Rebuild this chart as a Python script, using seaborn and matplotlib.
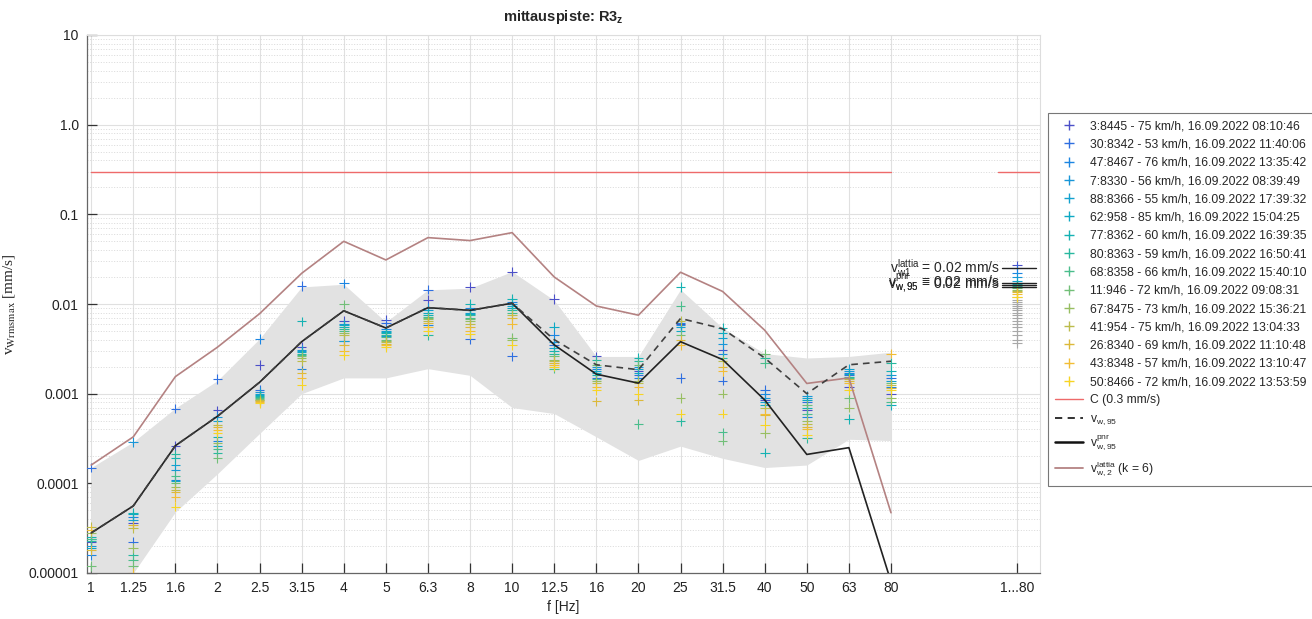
import numpy as np
import pandas as pd
import matplotlib
matplotlib.use("Agg")
import matplotlib.pyplot as plt
import seaborn as sns
from matplotlib.lines import Line2D

# ---------------- data ----------------
freq_labels = ["1", "1.25", "1.6", "2", "2.5", "3.15", "4", "5", "6.3", "8", "10",
               "12.5", "16", "20", "25", "31.5", "40", "50", "63", "80"]
total_label = "1...80"

pass_labels = [
    "3:8445 - 75 km/h, 16.09.2022 08:10:46",
    "30:8342 - 53 km/h, 16.09.2022 11:40:06",
    "47:8467 - 76 km/h, 16.09.2022 13:35:42",
    "7:8330 - 56 km/h, 16.09.2022 08:39:49",
    "88:8366 - 55 km/h, 16.09.2022 17:39:32",
    "62:958 - 85 km/h, 16.09.2022 15:04:25",
    "77:8362 - 60 km/h, 16.09.2022 16:39:35",
    "80:8363 - 59 km/h, 16.09.2022 16:50:41",
    "68:8358 - 66 km/h, 16.09.2022 15:40:10",
    "11:946 - 72 km/h, 16.09.2022 09:08:31",
    "67:8475 - 73 km/h, 16.09.2022 15:36:21",
    "41:954 - 75 km/h, 16.09.2022 13:04:33",
    "26:8340 - 69 km/h, 16.09.2022 11:10:48",
    "43:8348 - 57 km/h, 16.09.2022 13:10:47",
    "50:8466 - 72 km/h, 16.09.2022 13:53:59",
]

# per pass: 20 third-octave values + overall (1...80) value  [mm/s]
p01 = [2.2e-5, 3.6e-5, 2.6e-4, 6.5e-4, 2.1e-3, 3.3e-3, 6.5e-3, 6.6e-3, 1.1e-2, 1.55e-2, 2.3e-2, 1.13e-2, 2.6e-3, 1.8e-3, 6.0e-3, 3.1e-3, 8.5e-4, 6.5e-4, 1.2e-3, 1.0e-3, 2.7e-2]
p02 = [1.5e-4, 2.2e-5, 6.8e-4, 1.45e-3, 1.1e-3, 1.6e-2, 3.9e-3, 6.2e-3, 1.45e-2, 4.1e-3, 2.6e-3, 3.5e-3, 1.5e-3, 1.6e-3, 1.5e-3, 1.4e-3, 1.1e-3, 8.0e-4, 1.6e-3, 1.5e-3, 2.5e-2]
p03 = [1.6e-5, 4.2e-5, 1.1e-4, 3.0e-4, 4.1e-3, 1.9e-3, 1.7e-2, 5.2e-3, 5.8e-3, 9.0e-3, 1.05e-2, 4.5e-3, 1.9e-3, 1.5e-3, 6.2e-3, 2.8e-3, 1.0e-3, 5.5e-4, 1.7e-3, 1.2e-3, 2.2e-2]
p04 = [2.0e-5, 2.9e-4, 1.4e-4, 5.5e-4, 1.05e-3, 3.1e-3, 6.0e-3, 4.4e-3, 9.0e-3, 8.5e-3, 1.0e-2, 3.8e-3, 2.0e-3, 2.0e-3, 5.8e-3, 3.6e-3, 9.0e-4, 9.5e-4, 1.8e-3, 1.6e-3, 2.0e-2]
p05 = [2.4e-5, 3.9e-5, 1.6e-4, 5.0e-4, 1.0e-3, 3.0e-3, 3.9e-3, 5.0e-3, 8.5e-3, 8.0e-3, 9.5e-3, 3.2e-3, 1.8e-3, 1.9e-3, 5.5e-3, 4.2e-3, 8.0e-4, 9.0e-4, 1.9e-3, 1.4e-3, 1.8e-2]
p06 = [1.9e-5, 4.5e-5, 1.05e-4, 2.6e-4, 9.7e-4, 2.9e-3, 5.8e-3, 4.9e-3, 8.0e-3, 7.8e-3, 9.0e-3, 5.6e-3, 1.7e-3, 1.7e-3, 5.0e-3, 4.8e-3, 7.5e-4, 8.5e-4, 1.65e-3, 7.5e-4, 1.7e-2]
p07 = [2.5e-5, 4.7e-5, 1.9e-4, 3.3e-4, 9.5e-4, 6.4e-3, 5.5e-3, 4.7e-3, 7.5e-3, 1.0e-2, 1.15e-2, 3.0e-3, 1.6e-3, 2.5e-3, 1.55e-2, 5.4e-3, 2.2e-4, 7.0e-4, 5.2e-4, 1.8e-3, 1.65e-2]
p08 = [2.3e-5, 1.6e-5, 2.1e-4, 2.2e-4, 9.2e-4, 2.8e-3, 5.2e-3, 4.5e-3, 4.5e-3, 7.5e-3, 8.5e-3, 2.8e-3, 2.4e-3, 2.3e-3, 4.9e-4, 2.5e-3, 2.5e-3, 3.2e-4, 1.55e-3, 2.2e-3, 1.6e-2]
p09 = [2.4e-5, 1.4e-5, 1.2e-4, 2.4e-4, 9.0e-4, 2.7e-3, 5.0e-3, 4.3e-3, 7.2e-3, 7.0e-3, 8.0e-3, 1.9e-3, 1.45e-3, 4.6e-4, 9.5e-3, 3.7e-4, 2.2e-3, 6.0e-4, 1.5e-3, 8.0e-4, 1.55e-2]
p10 = [1.2e-5, 1.2e-5, 1.0e-4, 1.9e-4, 8.8e-4, 2.6e-3, 9.9e-3, 4.0e-3, 7.0e-3, 6.8e-3, 4.2e-3, 2.6e-3, 2.1e-3, 2.1e-3, 4.5e-3, 3.0e-4, 2.8e-3, 7.5e-4, 9.0e-4, 1.3e-3, 1.5e-2]
p11 = [2.8e-5, 1.9e-5, 9.0e-5, 2.8e-4, 8.6e-4, 2.5e-3, 4.8e-3, 3.9e-3, 6.8e-3, 6.5e-3, 4.0e-3, 2.4e-3, 1.4e-3, 1.4e-3, 9.0e-4, 1.0e-3, 3.6e-4, 5.0e-4, 7.0e-4, 9.0e-4, 1.45e-2]
p12 = [3.3e-5, 3.2e-5, 8.5e-5, 4.5e-4, 8.4e-4, 2.3e-3, 4.5e-3, 3.8e-3, 6.5e-3, 6.0e-3, 7.5e-3, 2.3e-3, 1.3e-3, 1.3e-3, 6.5e-3, 2.3e-3, 7.0e-4, 4.6e-4, 1.45e-3, 1.25e-3, 1.4e-2]
p13 = [1.8e-5, 3.4e-5, 8.0e-5, 4.2e-4, 8.2e-4, 1.7e-3, 3.5e-3, 3.6e-3, 6.2e-3, 5.5e-3, 7.0e-3, 2.2e-3, 8.2e-4, 8.5e-4, 4.0e-3, 2.0e-3, 5.8e-4, 4.3e-4, 1.4e-3, 1.15e-3, 1.35e-2]
p14 = [3.0e-5, 1.0e-5, 7.0e-5, 3.9e-4, 8.0e-4, 1.5e-3, 3.0e-3, 3.5e-3, 5.5e-3, 5.0e-3, 6.0e-3, 2.1e-3, 1.2e-3, 1.2e-3, 3.5e-3, 1.8e-3, 6.0e-4, 4.0e-4, 1.3e-3, 2.8e-3, 1.3e-2]
p15 = [8.0e-6, 8.0e-6, 5.5e-5, 3.6e-4, 7.8e-4, 1.25e-3, 2.7e-3, 3.3e-3, 5.0e-3, 4.6e-3, 3.5e-3, 2.0e-3, 1.1e-3, 1.0e-3, 6.0e-4, 6.0e-4, 4.5e-4, 3.5e-4, 1.1e-3, 1.1e-3, 1.2e-2]
pass_values = [p01, p02, p03, p04, p05, p06, p07, p08, p09, p10, p11, p12, p13, p14, p15]

# other passes (overall value only, grey)
other_total = [0.012, 0.011, 0.0105, 0.010, 0.0095, 0.009, 0.0085, 0.008, 0.0075,
               0.007, 0.0065, 0.006, 0.0055, 0.005, 0.0045, 0.004, 0.0037]

band_upper = [1.5e-4, 2.9e-4, 6.9e-4, 1.4e-3, 4.1e-3, 1.55e-2, 1.66e-2, 6.3e-3, 1.44e-2, 1.5e-2,
              2.3e-2, 1.1e-2, 2.6e-3, 2.6e-3, 1.45e-2, 5.4e-3, 2.8e-3, 2.5e-3, 2.6e-3, 2.9e-3]
band_lower = [4.0e-6, 1.0e-5, 4.8e-5, 1.28e-4, 3.6e-4, 1.0e-3, 1.5e-3, 1.5e-3, 1.9e-3, 1.6e-3,
              7.0e-4, 6.0e-4, 3.3e-4, 1.8e-4, 2.6e-4, 1.9e-4, 1.5e-4, 1.6e-4, 3.1e-4, 3.0e-4]

v_w95 = [2.8e-5, 5.6e-5, 2.63e-4, 5.6e-4, 1.34e-3, 3.8e-3, 8.4e-3, 5.4e-3, 9.1e-3, 8.5e-3,
         1.02e-2, 4.0e-3, 2.1e-3, 1.85e-3, 6.9e-3, 5.3e-3, 2.5e-3, 1.0e-3, 2.1e-3, 2.3e-3]
v_w95_pnr = [2.8e-5, 5.6e-5, 2.63e-4, 5.6e-4, 1.34e-3, 3.8e-3, 8.4e-3, 5.4e-3, 9.1e-3, 8.5e-3,
             1.02e-2, 3.5e-3, 1.65e-3, 1.31e-3, 3.8e-3, 2.4e-3, 8.5e-4, 2.1e-4, 2.5e-4, 8.0e-6]
v_w2_lattia = [1.6e-4, 3.3e-4, 1.55e-3, 3.3e-3, 7.8e-3, 2.2e-2, 5.0e-2, 3.1e-2, 5.5e-2, 5.1e-2,
               6.25e-2, 2.0e-2, 9.5e-3, 7.5e-3, 2.26e-2, 1.38e-2, 5.1e-3, 1.3e-3, 1.5e-3, 4.7e-5]
C_limit = 0.3

total_v_w1_lattia = 0.025
total_v_w95_pnr = 0.0173
total_v_w95 = 0.0164
total_v_w95_b = 0.0155

y_ticks = [1e-5, 1e-4, 1e-3, 1e-2, 1e-1, 1, 10]
y_ticklabels = ["0.00001", "0.0001", "0.001", "0.01", "0.1", "1.0", "10"]

pass_colors = ['#4c50c8', '#2f6fe0', '#1c86e2', '#1896d8', '#13a2cf', '#0ea9c4', '#15b2b3',
               '#29b8a0', '#4abd8c', '#72bf78', '#98be62', '#bcbc4c', '#dcb93a', '#f2bd35', '#f7d424']

# ---------------- styling ----------------
sns.set_theme(style="white")
plt.rcParams['font.family'] = ['Liberation Sans', 'DejaVu Sans']
plt.rcParams['mathtext.fontset'] = 'custom'
plt.rcParams['mathtext.rm'] = 'Liberation Sans'
plt.rcParams['mathtext.it'] = 'Liberation Sans:italic'
plt.rcParams['mathtext.bf'] = 'Liberation Sans:bold'

fig = plt.figure(figsize=(13.12, 6.19), dpi=100)
ax = fig.add_axes([87 / 1312, 46 / 619, (1040 - 87) / 1312, (573 - 35) / 619])

n = len(freq_labels)
x_pos = np.arange(n)
x_total = n + 2

# band
ax.fill_between(x_pos, band_lower, band_upper, color='#e2e2e2', lw=0, zorder=1)

# scatter of passes
rows = []
for lab, vals in zip(pass_labels, pass_values):
    xs = list(x_pos) + [x_total]
    for xv, vv in zip(xs, vals):
        rows.append({"x": xv, "v": vv, "pass": lab})
df = pd.DataFrame(rows)
sns.scatterplot(data=df, x="x", y="v", hue="pass", hue_order=pass_labels,
                palette=pass_colors, marker="+", s=48, linewidth=0.8,
                legend=False, ax=ax, zorder=3)
df_other = pd.DataFrame({"x": [x_total] * len(other_total), "v": other_total})
sns.scatterplot(data=df_other, x="x", y="v", color='#a8a8a8', marker="+", s=48,
                linewidth=0.8, legend=False, ax=ax, zorder=2.5)

# lines
sns.lineplot(x=[x_pos[0], x_pos[-1]], y=[C_limit, C_limit], color='#ee6a6a', lw=1.0, ax=ax, zorder=4)
sns.lineplot(x=[x_total - 0.45, x_total + 0.6], y=[C_limit, C_limit], color='#ee6a6a', lw=1.0, ax=ax, zorder=4)
sns.lineplot(x=x_pos, y=v_w2_lattia, color='#b48282', lw=1.2, ax=ax, zorder=4, sort=False)
sns.lineplot(x=x_pos, y=v_w95_pnr, color='#222222', lw=1.2, ax=ax, zorder=5, sort=False)
sns.lineplot(x=x_pos, y=v_w95, color='#404040', lw=1.2, ax=ax, zorder=5, sort=False,
             linestyle=(0, (4, 3)))

# overall value markers with text
seg = [x_total - 0.36, x_total + 0.45]
for val in [total_v_w1_lattia, total_v_w95_pnr, total_v_w95, total_v_w95_b]:
    ax.plot(seg, [val, val], color='#222222', lw=1.0, zorder=6)
ax.text(seg[0] - 0.05, total_v_w1_lattia, r"v$^{\mathrm{lattia}}_{\mathrm{w1}}$ = 0.02 mm/s",
        ha='right', va='center', fontsize=10, zorder=6)
ax.text(seg[0] - 0.05, total_v_w95_pnr, r"v$^{\mathrm{pnr}}_{\mathrm{w,95}}$ = 0.02 mm/s",
        ha='right', va='center', fontsize=10, zorder=6)
ax.text(seg[0] - 0.05, total_v_w95, r"v$_{\mathrm{w,95}}$ = 0.02 mm/s",
        ha='right', va='center', fontsize=10, zorder=6)

# axes
ax.set_yscale('log')
ax.set_ylim(1e-5, 10)
ax.set_xlim(-0.1, x_total + 0.54)
ax.set_yticks(y_ticks)
ax.set_yticklabels(y_ticklabels)
ax.set_xticks(list(x_pos) + [x_total])
ax.set_xticklabels(freq_labels + [total_label])
ax.yaxis.set_minor_locator(matplotlib.ticker.LogLocator(base=10, subs=np.arange(2, 10), numticks=20))
ax.yaxis.set_minor_formatter(matplotlib.ticker.NullFormatter())

ax.set_axisbelow(True)
ax.grid(True, which='major', axis='both', color='#e0e0e0', lw=0.8)
ax.grid(True, which='minor', axis='y', color='#d4d4d4', ls=(0, (1.2, 2)), lw=0.6)
ax.tick_params(which='major', direction='in', length=7, width=0.9, color='#333333',
               labelsize=10, labelcolor='#222222', pad=6, left=True, bottom=True)
ax.tick_params(which='minor', length=0)
for s in ['left', 'bottom']:
    ax.spines[s].set_color('#666666')
    ax.spines[s].set_linewidth(0.9)
for s in ['top', 'right']:
    ax.spines[s].set_color('#dddddd')
    ax.spines[s].set_linewidth(0.8)

ax.set_xlabel("f [Hz]", fontsize=10, labelpad=3)
yl = ax.set_ylabel(r"v$_{\mathrm{Wrmsmax}}$ [mm/s]", fontsize=11, labelpad=8,
                   fontfamily='Liberation Serif')
yl.set_math_fontfamily('stix')
ax.set_title(r"mittauspiste: R3$_\mathbf{z}$", fontsize=10.5, fontweight='bold', pad=10)

# legend
handles = [Line2D([], [], marker='+', ls='', color=c, markersize=7, mew=1.0) for c in pass_colors]
labels = list(pass_labels)
handles += [Line2D([], [], color='#ee6a6a', lw=1.0),
            Line2D([], [], color='#222222', lw=1.3, ls=(0, (4, 3))),
            Line2D([], [], color='#111111', lw=1.8),
            Line2D([], [], color='#b48282', lw=1.3)]
labels += ["C (0.3 mm/s)", r"v$_{\mathrm{w,95}}$", r"v$^{\mathrm{pnr}}_{\mathrm{w,95}}$",
           r"v$^{\mathrm{lattia}}_{\mathrm{w,2}}$ (k = 6)"]
leg = fig.legend(handles, labels, loc='upper left', bbox_to_anchor=(1048 / 1312, 1 - 113 / 619),
                 frameon=True, fancybox=False, edgecolor='#555555', fontsize=8.7,
                 handlelength=2.3, handletextpad=0.6, borderpad=0.6, labelspacing=0.52,
                 borderaxespad=0)
leg.get_frame().set_linewidth(0.8)

fig.savefig("out.png", dpi=100, facecolor='white')
